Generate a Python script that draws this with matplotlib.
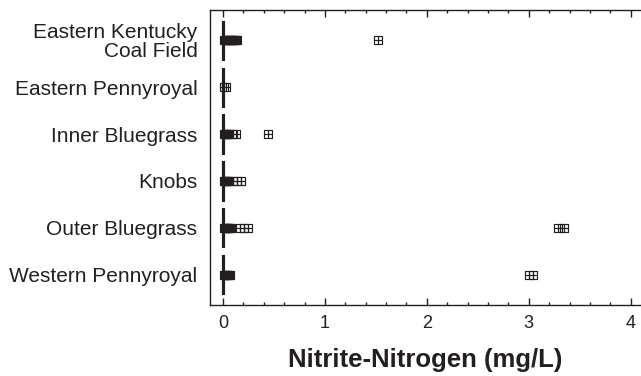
import matplotlib
matplotlib.use("Agg")
import matplotlib.pyplot as plt
from matplotlib.path import Path

regions = ["Eastern Kentucky\nCoal Field", "Eastern Pennyroyal", "Inner Bluegrass",
           "Knobs", "Outer Bluegrass", "Western Pennyroyal"]

# box statistics per region (all quartiles sit at zero)
box_q1 = [0, 0, 0, 0, 0, 0]
box_med = [0, 0, 0, 0, 0, 0]
box_q3 = [0, 0, 0, 0, 0, 0]
whisk_lo = [0, 0, 0, 0, 0, 0]
whisk_hi = [0, 0, 0, 0, 0, 0]

# outliers
outliers = [
    [0.01, 0.02, 0.03, 0.04, 0.05, 0.06, 0.07, 0.08, 0.09, 0.10, 0.11, 0.12, 0.13, 0.14, 1.52],
    [0.01, 0.03],
    [0.01, 0.02, 0.03, 0.04, 0.05, 0.06, 0.10, 0.13, 0.44],
    [0.01, 0.02, 0.03, 0.04, 0.05, 0.06, 0.10, 0.14, 0.18],
    [0.01, 0.02, 0.03, 0.04, 0.05, 0.06, 0.07, 0.08, 0.17, 0.21, 0.25, 3.29, 3.34],
    [0.01, 0.02, 0.03, 0.04, 0.05, 0.06, 0.07, 3.00, 3.04],
]

ink = '#231f20'
plt.rcParams['font.family'] = ['Liberation Sans', 'DejaVu Sans']

# square with a cross inside
box_cross = Path([(-1, -1), (1, -1), (1, 1), (-1, 1), (-1, -1),
                  (-1, 0), (1, 0), (0, -1), (0, 1)],
                 [Path.MOVETO, Path.LINETO, Path.LINETO, Path.LINETO, Path.CLOSEPOLY,
                  Path.MOVETO, Path.LINETO, Path.MOVETO, Path.LINETO])

stats = []
for i in range(len(regions)):
    stats.append(dict(q1=box_q1[i], med=box_med[i], q3=box_q3[i],
                      whislo=whisk_lo[i], whishi=whisk_hi[i], fliers=outliers[i]))

fig = plt.figure(figsize=(6.41, 3.76), dpi=100)
ax = fig.add_axes([210 / 641, 1 - 305 / 376, 1 - 210 / 641, 295 / 376])

positions = list(range(1, len(regions) + 1))
ax.bxp(stats, positions=positions, orientation='horizontal', widths=0.8,
       boxprops=dict(color=ink, linewidth=2.2),
       medianprops=dict(color=ink, linewidth=2.2),
       whiskerprops=dict(color=ink, linewidth=2.2),
       capprops=dict(color=ink, linewidth=0),
       flierprops=dict(marker=box_cross, markersize=5.5, markerfacecolor='none',
                       markeredgecolor=ink, markeredgewidth=0.85, linestyle='none'))

ax.set_ylim(6.65, 0.35)
ax.set_yticks(positions, regions, fontsize=15, linespacing=0.95)
ax.tick_params(axis='y', length=0, pad=9)

ax.set_xlim(-0.127, 4.1)
ax.set_xticks([0, 1, 2, 3, 4])
ax.set_xticks([0.2 * k for k in range(21) if k % 5], minor=True)
ax.tick_params(axis='x', which='both', direction='in', top=True, color=ink,
               labelsize=13, pad=7, labelcolor=ink)
ax.tick_params(axis='x', which='major', length=5, width=1)
ax.tick_params(axis='x', which='minor', length=2.5, width=1)
for lbl in ax.get_yticklabels():
    lbl.set_color(ink)

ax.spines['right'].set_visible(False)
for side in ['left', 'top', 'bottom']:
    ax.spines[side].set_color(ink)
    ax.spines[side].set_linewidth(1)

ax.set_xlabel('Nitrite-Nitrogen (mg/L)', fontsize=18.5, fontweight='bold',
              color=ink, labelpad=12)

fig.savefig('out.png', dpi=100)
